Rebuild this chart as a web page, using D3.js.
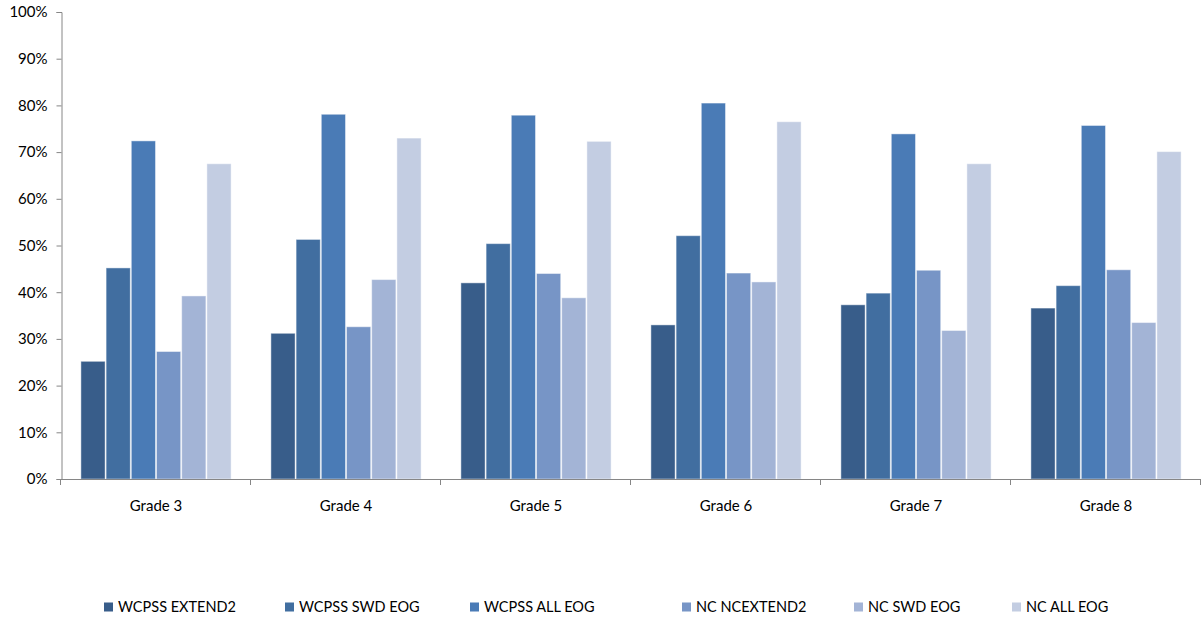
<!DOCTYPE html>
<html>
<head>
<meta charset="utf-8">
<script src="https://cdn.jsdelivr.net/npm/d3@7"></script>
<style>
  html, body { margin: 0; padding: 0; background: #fff; }
  svg { display: block; }
  text { font-family: Lato, "Open Sans", sans-serif; fill: #000; }
</style>
</head>
<body>
<svg id="chart" width="1201" height="619"></svg>
<script>
// Grade levels along the x axis
const grades = ["Grade 3", "Grade 4", "Grade 5", "Grade 6", "Grade 7", "Grade 8"];

// Series names, in legend order
const seriesNames = ["WCPSS EXTEND2", "WCPSS SWD EOG", "WCPSS ALL EOG", "NC NCEXTEND2", "NC SWD EOG", "NC ALL EOG"];

// Percent proficient per grade for each series
const wcpssExtend2 = [25.2, 31.2, 42.0, 33.0, 37.3, 36.6];
const wcpssSwdEog  = [45.2, 51.3, 50.4, 52.1, 39.8, 41.4];
const wcpssAllEog  = [72.4, 78.1, 77.9, 80.5, 73.9, 75.7];
const ncExtend2    = [27.3, 32.6, 44.0, 44.1, 44.7, 44.8];
const ncSwdEog     = [39.2, 42.7, 38.8, 42.2, 31.8, 33.5];
const ncAllEog     = [67.5, 73.0, 72.3, 76.5, 67.5, 70.1];

// Y axis tick values (percent)
const yTicks = [0, 10, 20, 30, 40, 50, 60, 70, 80, 90, 100];

const seriesValues = [wcpssExtend2, wcpssSwdEog, wcpssAllEog, ncExtend2, ncSwdEog, ncAllEog];
const colors = ["#385d8a", "#416ea0", "#4a7bb6", "#7795c6", "#a3b4d6", "#c3cde2"];

const svg = d3.select("#chart");
const plot = { left: 61, right: 1201, top: 12, bottom: 479 };

const x0 = d3.scaleBand()
  .domain(grades)
  .range([plot.left, plot.right])
  .paddingInner(0)
  .paddingOuter(0);

const x1 = d3.scaleBand()
  .domain(d3.range(seriesNames.length))
  .range([0, x0.bandwidth()])
  .paddingInner(0)
  .paddingOuter(0.77);

const y = d3.scaleLinear()
  .domain([0, 100])
  .range([plot.bottom, plot.top]);

// Bars
const groups = svg.append("g").selectAll("g")
  .data(grades)
  .join("g")
  .attr("transform", d => `translate(${x0(d)},0)`);

groups.selectAll("rect")
  .data((g, gi) => seriesValues.map((vals, si) => ({ si, v: vals[gi] })))
  .join("rect")
  .attr("x", d => x1(d.si) + 0.5)
  .attr("y", d => y(d.v))
  .attr("width", x1.bandwidth() - 1)
  .attr("height", d => y(0) - y(d.v))
  .attr("fill", d => colors[d.si])
  .attr("stroke", "#ffffff")
  .attr("stroke-opacity", 0.45)
  .attr("stroke-width", 1);

// Y axis
const yAxis = d3.axisLeft(y)
  .tickValues(yTicks)
  .tickSize(5)
  .tickPadding(9)
  .tickFormat(d => d + "%");

const yg = svg.append("g")
  .attr("transform", `translate(${plot.left + 0.5},0)`)
  .call(yAxis);
yg.select(".domain").attr("stroke", "#868686");
yg.selectAll(".tick line").attr("stroke", "#868686");
yg.selectAll(".tick text")
  .style("font-size", "15px")
  .style("font-family", "Lato, 'Open Sans', sans-serif")
  .attr("fill", "#000");

// X axis: baseline with ticks at group boundaries
const xg = svg.append("g");
xg.append("line")
  .attr("x1", plot.left)
  .attr("x2", plot.right)
  .attr("y1", plot.bottom + 0.5)
  .attr("y2", plot.bottom + 0.5)
  .attr("stroke", "#868686");

const boundaries = grades.map(g => x0(g)).concat([x0(grades[grades.length - 1]) + x0.bandwidth()]);
xg.selectAll("line.tick")
  .data(boundaries)
  .join("line")
  .attr("class", "tick")
  .attr("x1", d => Math.round(d) - 0.5)
  .attr("x2", d => Math.round(d) - 0.5)
  .attr("y1", plot.bottom)
  .attr("y2", plot.bottom + 6)
  .attr("stroke", "#868686");

xg.selectAll("text")
  .data(grades)
  .join("text")
  .attr("x", d => x0(d) + x0.bandwidth() / 2)
  .attr("y", 511)
  .attr("text-anchor", "middle")
  .style("font-size", "15px")
  .text(d => d);

// Legend
const legendX = [104, 285, 470, 682, 854, 1012];
const legend = svg.append("g").selectAll("g")
  .data(seriesNames)
  .join("g")
  .attr("transform", (d, i) => `translate(${legendX[i]},607)`);

legend.append("rect")
  .attr("x", 0)
  .attr("y", -4.5)
  .attr("width", 9)
  .attr("height", 9)
  .attr("fill", (d, i) => colors[i]);

legend.append("text")
  .attr("x", 14)
  .attr("y", 0)
  .attr("dy", "0.35em")
  .style("font-size", "14.5px")
  .text(d => d);
</script>
</body>
</html>
